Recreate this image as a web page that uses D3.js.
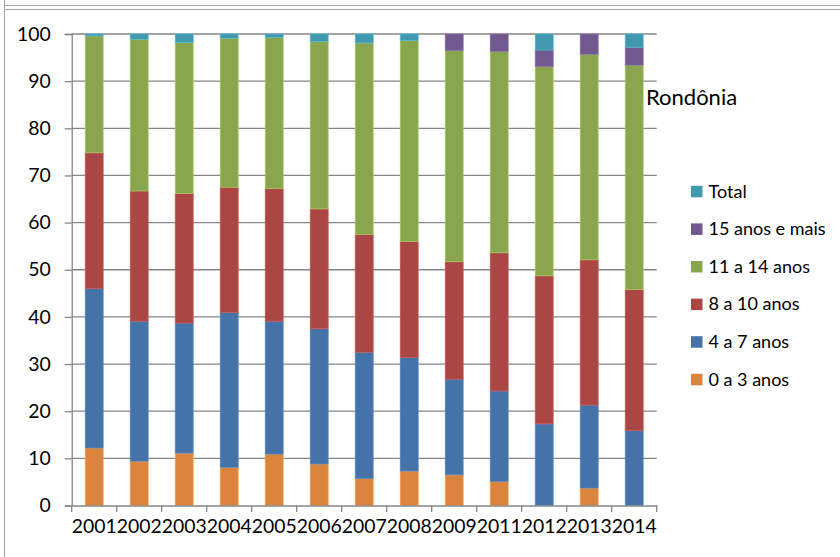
<!DOCTYPE html>
<html>
<head>
<meta charset="utf-8">
<script src="https://cdn.jsdelivr.net/npm/d3@7"></script>
<style>
  html, body { margin: 0; padding: 0; background: #fff; }
  svg { display: block; font-family: Lato, "Open Sans", sans-serif; }
</style>
</head>
<body>
<svg id="chart" width="840" height="557"></svg>
<script>
const years = ["2001","2002","2003","2004","2005","2006","2007","2008","2009","2011","2012","2013","2014"];
const seriesNames = ["0 a 3 anos","4 a 7 anos","8 a 10 anos","11 a 14 anos","15 anos e mais","Total"];
const s0a3   = [12.2, 9.4, 11.1, 8.1, 10.9, 8.8, 5.7, 7.3, 6.5, 5.1, 0, 3.7, 0];
const s4a7   = [33.8, 29.7, 27.6, 32.8, 28.2, 28.7, 26.8, 24.1, 20.3, 19.2, 17.3, 17.6, 15.9];
const s8a10  = [28.8, 27.6, 27.5, 26.6, 28.1, 25.4, 25.0, 24.6, 24.9, 29.3, 31.4, 30.8, 29.9];
const s11a14 = [24.8, 32.2, 32.0, 31.6, 32.1, 35.5, 40.6, 42.6, 44.8, 42.7, 44.4, 43.6, 47.6];
const s15    = [0, 0, 0, 0, 0, 0, 0, 0, 3.5, 3.7, 3.5, 4.3, 3.8];
const sTotal = [0.4, 1.1, 1.8, 0.9, 0.7, 1.6, 1.9, 1.4, 0, 0, 3.4, 0, 2.8];
const yTicks = [0, 10, 20, 30, 40, 50, 60, 70, 80, 90, 100];
const colors = ["#DB843D", "#4572A7", "#AA4643", "#89A54E", "#71588F", "#4198AF"];
const title = "Rondônia";

const seriesValues = [s0a3, s4a7, s8a10, s11a14, s15, sTotal];
const table = years.map((y, i) => {
  const row = { year: y };
  seriesNames.forEach((n, k) => row[n] = seriesValues[k][i]);
  return row;
});

const svg = d3.select("#chart");

// outer frame lines
svg.append("line").attr("x1", 4.5).attr("x2", 4.5).attr("y1", 0).attr("y2", 557)
  .attr("stroke", "#a6a6a6").attr("stroke-width", 1);
svg.append("line").attr("x1", 4.5).attr("x2", 840).attr("y1", 5.5).attr("y2", 5.5)
  .attr("stroke", "#a6a6a6").attr("stroke-width", 1.2);
svg.append("line").attr("x1", 4.5).attr("x2", 840).attr("y1", 9.5).attr("y2", 9.5)
  .attr("stroke", "#a6a6a6").attr("stroke-width", 1.2);

const x = d3.scaleBand().domain(years).range([71.7, 656.7]).paddingInner(0.6).paddingOuter(0.3);
const y = d3.scaleLinear().domain([0, 100]).range([505.5, 34]);

// y axis
const yAxis = d3.axisLeft(y).tickValues(yTicks).tickSize(7).tickPadding(14);
const gy = svg.append("g").attr("transform", "translate(71.7,0)").call(yAxis);
gy.select(".domain").attr("stroke", "#868686").attr("stroke-width", 1.3);
gy.selectAll(".tick line").attr("stroke", "#868686").attr("stroke-width", 1.3);
gy.selectAll(".tick text").attr("font-size", 19.4).attr("fill", "#000")
  .attr("font-family", "Lato, sans-serif");

// gridlines
svg.append("g").selectAll("line").data(yTicks.filter(t => t > 0)).join("line")
  .attr("x1", 71.7).attr("x2", 656.7)
  .attr("y1", d => y(d)).attr("y2", d => y(d))
  .attr("stroke", "#868686").attr("stroke-width", 1.3);

// stacked bars
const stacked = d3.stack().keys(seriesNames)(table);
svg.append("g").selectAll("g").data(stacked).join("g")
  .attr("fill", (d, i) => colors[i])
  .attr("stroke", (d, i) => d3.color(colors[i]).brighter(0.6))
  .attr("stroke-width", 0.7)
  .selectAll("rect").data(d => d.filter(p => p[1] - p[0] > 0)).join("rect")
  .attr("x", d => x(d.data.year))
  .attr("width", x.bandwidth())
  .attr("y", d => y(d[1]))
  .attr("height", d => y(d[0]) - y(d[1]));

// x axis
const xAxis = d3.axisBottom(x).tickSize(0).tickPadding(14);
const gx = svg.append("g").attr("transform", "translate(0,505.5)").call(xAxis);
gx.select(".domain").attr("stroke", "#868686").attr("stroke-width", 1.3);
gx.selectAll(".tick text").attr("font-size", 19.4).attr("fill", "#000")
  .attr("font-family", "Lato, sans-serif");
// category boundary tick marks
const step = x.step();
const edgeTicks = d3.range(years.length + 1).map(i => x.range()[0] + i * step);
svg.append("g").selectAll("line").data(edgeTicks).join("line")
  .attr("x1", d => d).attr("x2", d => d).attr("y1", 505.5).attr("y2", 512)
  .attr("stroke", "#868686").attr("stroke-width", 1.3);

// title
svg.append("text").attr("x", 646).attr("y", 104.5)
  .attr("font-size", 22).attr("fill", "#000").text(title);

// legend (reverse order)
const legendNames = seriesNames.slice().reverse();
const legendColors = colors.slice().reverse();
const lg = svg.append("g").selectAll("g").data(legendNames).join("g")
  .attr("transform", (d, i) => `translate(691,${191.3 + i * 37.6})`);
lg.append("rect").attr("x", 0).attr("y", -5.5).attr("width", 11.5).attr("height", 11.5)
  .attr("fill", (d, i) => legendColors[i]);
lg.append("text").attr("x", 17.5).attr("y", 0).attr("dy", "0.35em")
  .attr("font-size", 18).attr("fill", "#000").text(d => d);
</script>
</body>
</html>
